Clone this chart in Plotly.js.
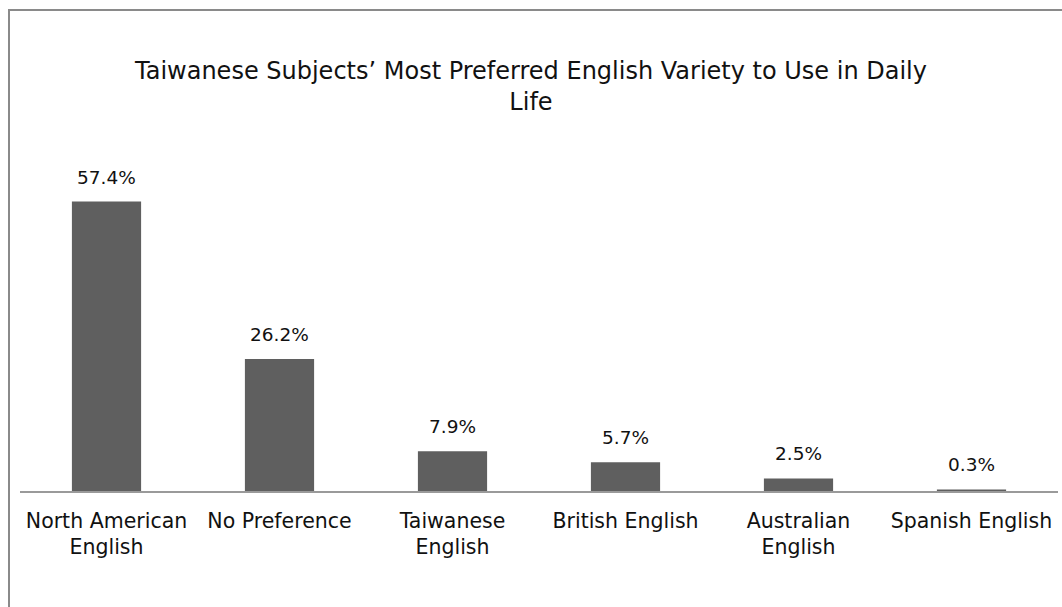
<!DOCTYPE html>
<html>
<head>
<meta charset="utf-8">
<script src="https://cdn.plot.ly/plotly-3.0.1.min.js"></script>
<style>
  html, body { margin: 0; padding: 0; background: #fff; overflow: hidden; }
  #frame { position: absolute; left: 8px; top: 9px; width: 1200px; height: 800px;
           border-left: 2px solid #8a8a8a; border-top: 2px solid #8a8a8a; }
  #chart { position: absolute; left: 0; top: 0; width: 1062px; height: 607px; }
</style>
</head>
<body>
<div id="frame"></div>
<div id="chart"></div>
<script>
const categories = ["North American<br>English", "No Preference", "Taiwanese<br>English",
                    "British English", "Australian<br>English", "Spanish English"];
const values = [57.4, 26.2, 7.9, 5.7, 2.5, 0.3];
const labels = ["57.4%", "26.2%", "7.9%", "5.7%", "2.5%", "0.3%"];
const titleText = "Taiwanese Subjects\u2019 Most Preferred English Variety to Use in Daily<br>Life";

const FONT = "'DejaVu Sans', sans-serif";

const trace = {
  type: "bar",
  x: categories,
  y: values,
  marker: { color: "#5f5f5f" },
  hoverinfo: "skip"
};

const annotations = categories.map((c, i) => ({
  x: c, y: values[i], xref: "x", yref: "y",
  text: labels[i], showarrow: false,
  yanchor: "bottom", yshift: 13, borderpad: 0,
  font: { family: FONT, size: 18.5, color: "#111" }
}));

const layout = {
  width: 1062, height: 607,
  paper_bgcolor: "rgba(0,0,0,0)", plot_bgcolor: "rgba(0,0,0,0)",
  margin: { l: 20, r: 4, t: 138, b: 116 },
  showlegend: false,
  bargap: 0.6,
  title: {
    text: titleText,
    font: { family: FONT, size: 24, color: "#111" },
    x: 0.5, xanchor: "center", xref: "container",
    y: 1 - 79 / 607, yanchor: "top", yref: "container"
  },
  xaxis: {
    type: "category",
    showline: true, linecolor: "#9a9a9a", linewidth: 2,
    ticks: "", showgrid: false, zeroline: false,
    tickfont: { family: FONT, size: 20.5, color: "#111" },
    ticklabelstandoff: 10
  },
  yaxis: {
    range: [0, 70], visible: false, showgrid: false, zeroline: false, fixedrange: true
  },
  annotations: annotations
};

Plotly.newPlot("chart", [trace], layout, { staticPlot: true, displayModeBar: false });
</script>
</body>
</html>
